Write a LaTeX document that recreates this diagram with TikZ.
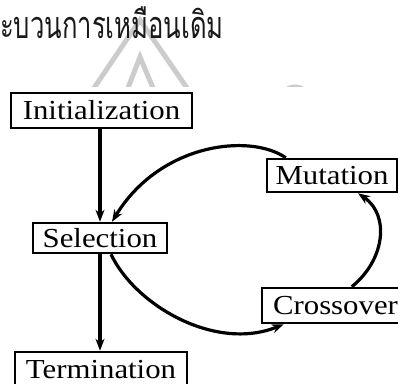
\documentclass[tikz,border=0pt]{standalone}
\usepackage{fontspec}
\setmainfont{Liberation Serif}
\newfontfamily\thaifont[Script=Thai]{Loma}
\usepackage{graphicx}
\usetikzlibrary{arrows.meta}
\newcommand{\wtxt}[1]{\scalebox{1.12}[1]{\fontsize{27.5}{30}\selectfont #1}}
\tikzset{
  stagebox/.style={draw=black, line width=2.5pt, fill=white, inner sep=0pt},
  flow/.style={line width=3.2pt, -{Stealth[length=12pt,width=9pt]}},
  wmark/.style={draw=black!20, line width=5pt}
}
\begin{document}
\begin{tikzpicture}[x=1pt,y=-1pt]
\useasboundingbox (0,0) rectangle (398,383);
\clip (0,0) rectangle (398,383);
\begin{scope}
  \clip (0,0) rectangle (398,86);
  \draw[wmark] (94,88) -- (140,20) -- (187,88);
  \draw[wmark] (128,88) -- (140,57) -- (153,88);
  \draw[wmark] (295,102) circle (15);
\end{scope}
\node[anchor=base west, inner sep=0pt, text=black!90] (title) at (0,38) {\scalebox{0.95}[1.4]{\thaifont\fontsize{27}{30}\selectfont ะบวนการเหมือนเดิม}};
\node[stagebox, minimum width=181pt, minimum height=35pt] (init) at (101.5,110.5) {\wtxt{Initialization}};
\node[stagebox, minimum width=134pt, minimum height=30pt] (sel) at (100,238) {\wtxt{Selection}};
\node[stagebox, minimum width=172pt, minimum height=35pt] (term) at (101,369.5) {\wtxt{Termination}};
\node[stagebox, minimum width=130pt, minimum height=33pt] (mut) at (332,175.5) {\wtxt{Mutation}};
\node[stagebox, minimum width=147pt, minimum height=35pt] (cross) at (335.5,305.5) {\wtxt{Crossover}};
\draw[flow] (sel.north |- init.south) -- (sel.north);
\draw[flow] (sel.south) -- (sel.south |- term.north);
\draw[flow] ([xshift=20pt]mut.north west) .. controls (250,133) and (160,143) .. ([xshift=12pt]sel.north);
\draw[flow] ([xshift=11pt]sel.south) .. controls (135,305) and (215,352) .. ([xshift=23pt]cross.south west);
\draw[flow] ([xshift=91pt]cross.north west) .. controls (385,260) and (390,215) .. ([xshift=26pt]mut.south);
\end{tikzpicture}
\end{document}
